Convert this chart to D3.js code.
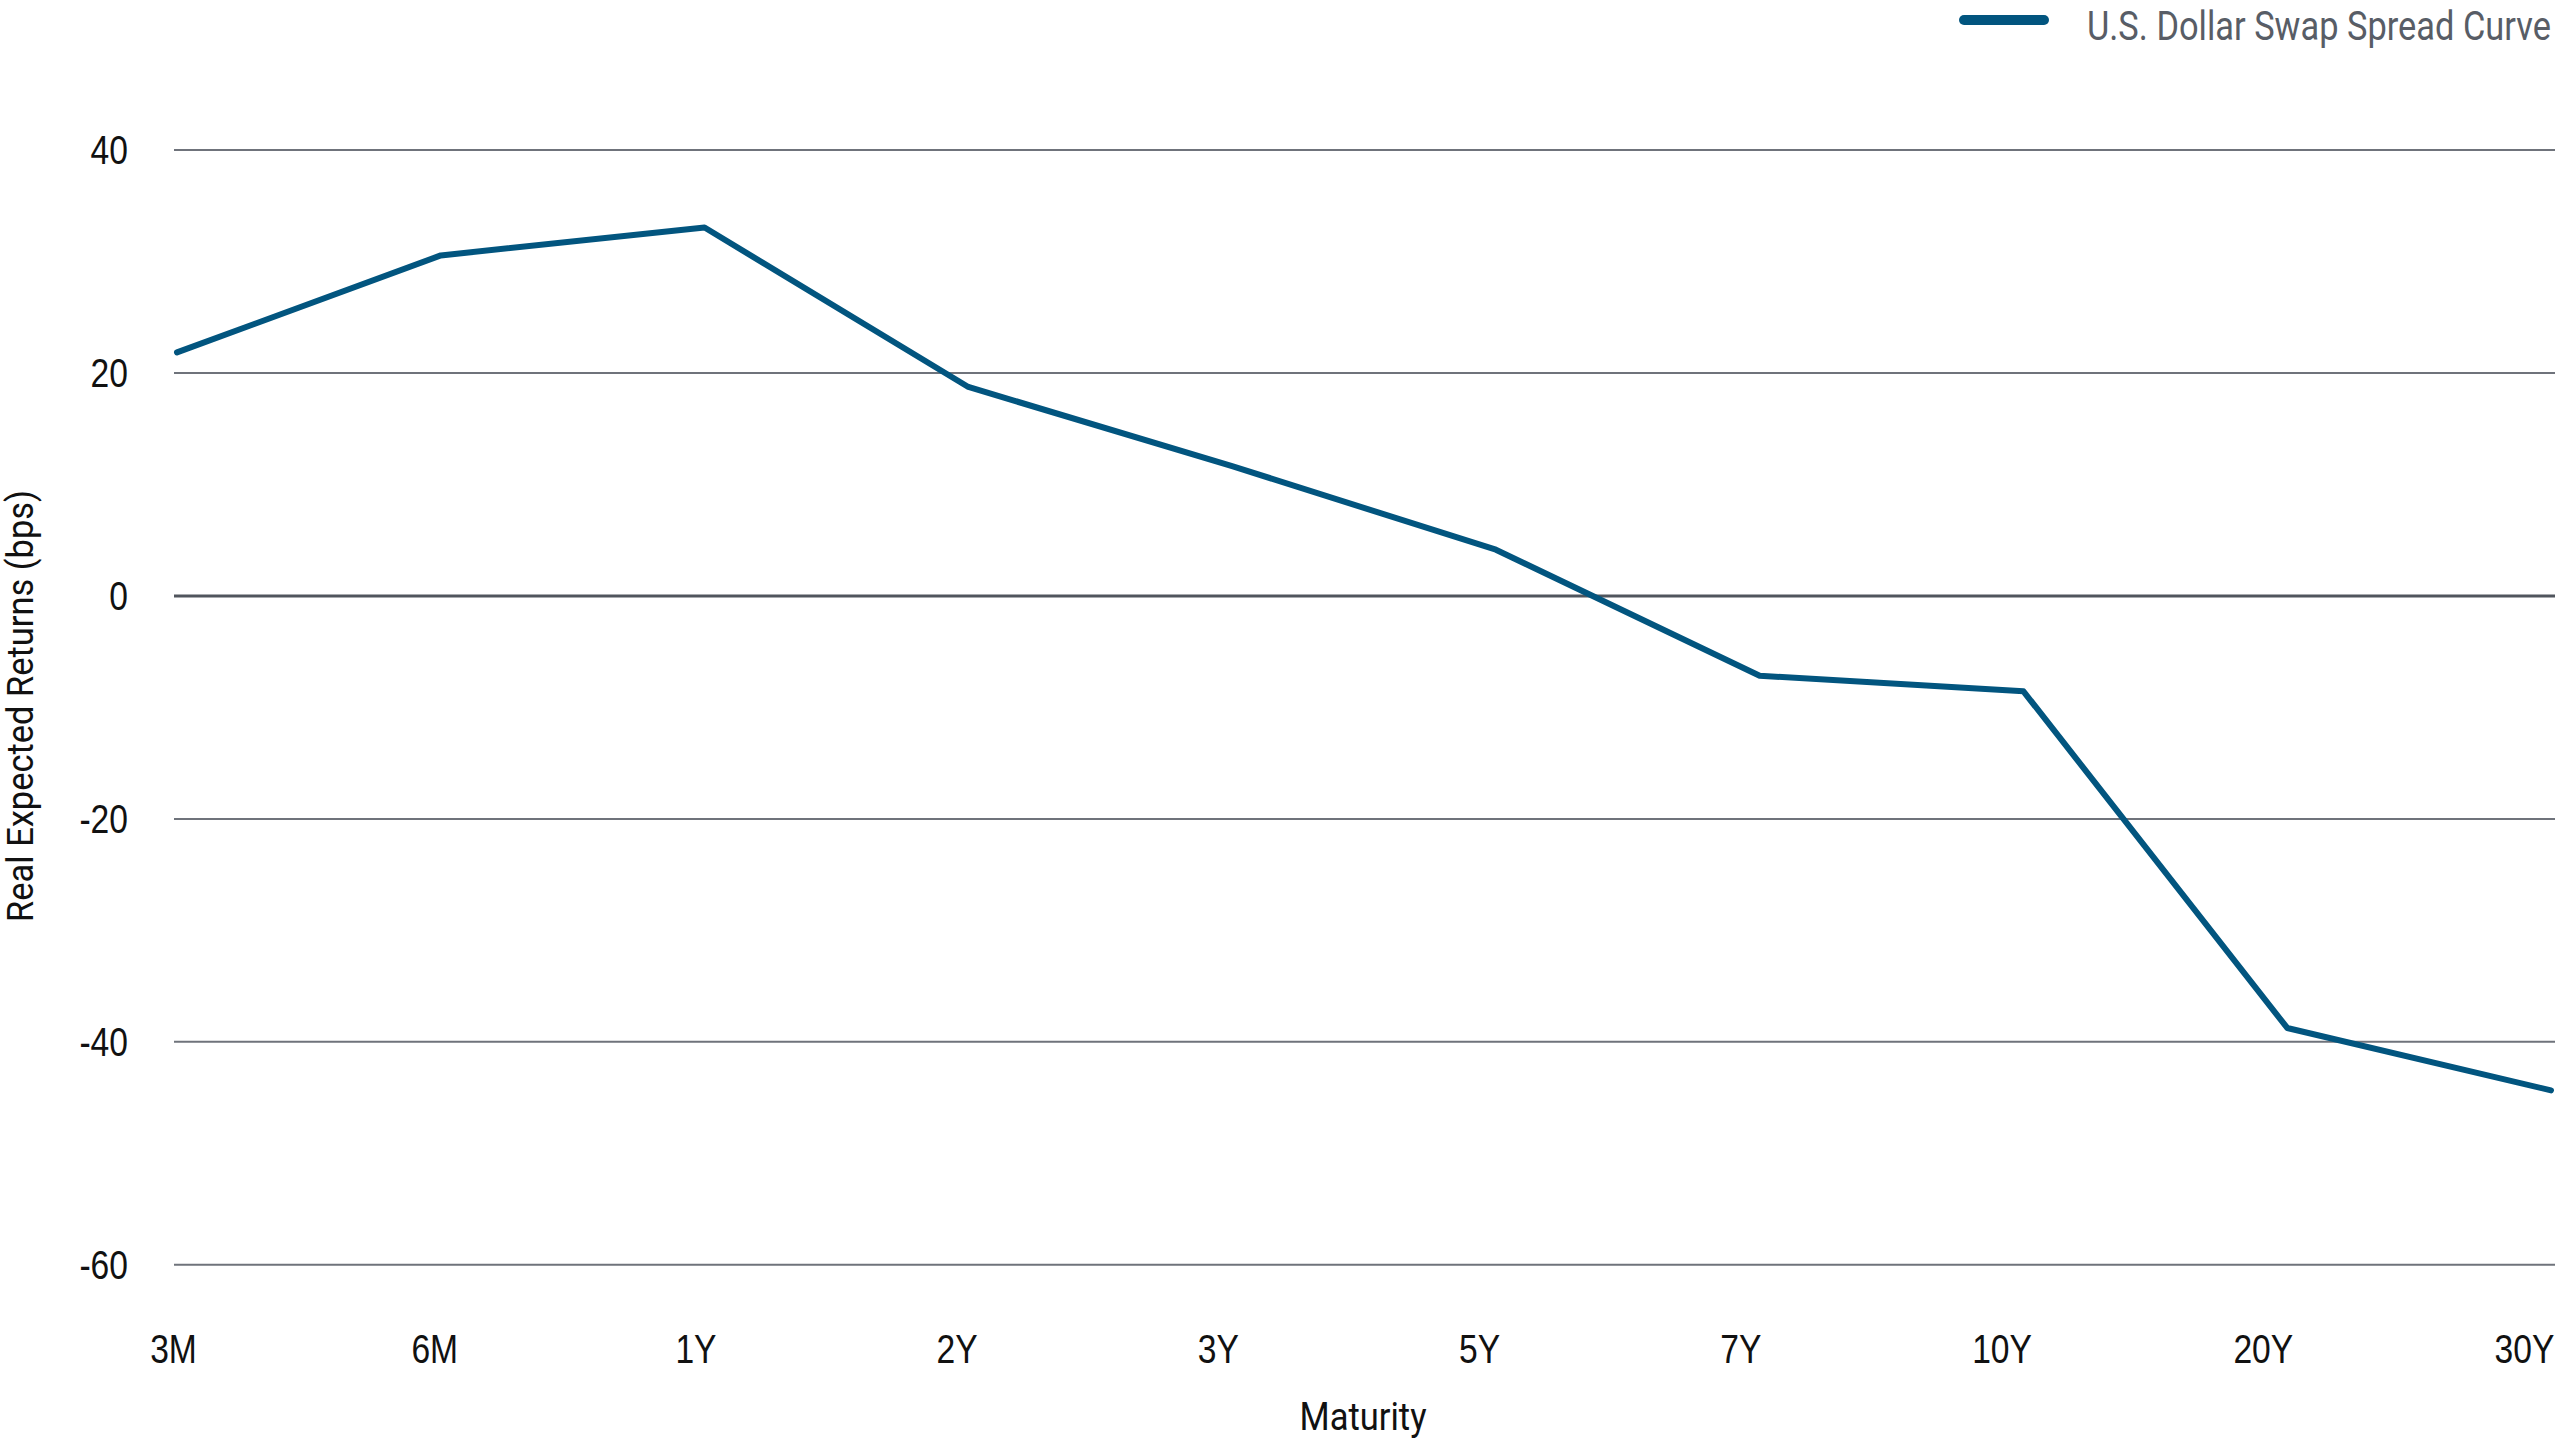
<!DOCTYPE html>
<html>
<head>
<meta charset="utf-8">
<script src="https://cdn.jsdelivr.net/npm/d3@7"></script>
<style>
  html, body { margin: 0; padding: 0; background: #fff; }
  svg { display: block; font-family: Roboto, "Noto Sans", sans-serif; }
</style>
</head>
<body>
<svg id="chart" width="2560" height="1440"></svg>
<script>
const categories = ["3M", "6M", "1Y", "2Y", "3Y", "5Y", "7Y", "10Y", "20Y", "30Y"];
const swapSpread = [21.8, 30.5, 33.0, 18.7, 11.6, 4.1, -7.2, -8.6, -38.8, -44.4];
const yTicks = [-60, -40, -20, 0, 20, 40];
const yTickLabels = ["-60", "-40", "-20", "0", "20", "40"];
const seriesName = "U.S. Dollar Swap Spread Curve";
const yTitle = "Real Expected Returns (bps)";
const xTitle = "Maturity";

const svg = d3.select("#chart");
const plotLeft = 174, plotRight = 2555, plotTop = 149.5, plotBottom = 1264.3;
const cond = 0.82;
const lineColor = "#02557f";

const y = d3.scaleLinear().domain([-60, 40]).range([plotBottom, plotTop]);
const x = d3.scalePoint().domain(categories).range([177, 2551]);
const xLab = d3.scalePoint().domain(categories).range([173, 2524]);

// Y axis + gridlines
const yAxis = svg.append("g")
  .attr("transform", `translate(${plotLeft},0)`)
  .call(d3.axisLeft(y).tickValues(yTicks).tickSize(-(plotRight - plotLeft)).tickPadding(0)
    .tickFormat((d, i) => yTickLabels[i]));
yAxis.select(".domain").remove();
yAxis.selectAll(".tick line")
  .attr("stroke", d => d === 0 ? "#50555d" : "#6f737b")
  .attr("stroke-width", d => d === 0 ? 3 : 2);
yAxis.selectAll(".tick text")
  .attr("font-size", 41)
  .attr("fill", "#111")
  .attr("text-anchor", "end")
  .attr("x", -46 / cond)
  .attr("dy", "0.35em")
  .attr("transform", `scale(${cond},1)`);

// X axis labels
const xAxis = svg.append("g")
  .attr("transform", `translate(0,${plotBottom})`)
  .call(d3.axisBottom(xLab).tickSize(0).tickPadding(0));
xAxis.select(".domain").remove();
xAxis.selectAll(".tick line").remove();
xAxis.selectAll(".tick text")
  .attr("font-size", 41)
  .attr("fill", "#111")
  .attr("y", 98.5)
  .attr("dy", null)
  .attr("transform", `scale(${cond},1)`);

// Line
const line = d3.line()
  .x((d, i) => x(categories[i]))
  .y(d => y(d));
svg.append("path")
  .datum(swapSpread)
  .attr("d", line)
  .attr("fill", "none")
  .attr("stroke", lineColor)
  .attr("stroke-width", 6)
  .attr("stroke-linejoin", "round")
  .attr("stroke-linecap", "round");

// Axis titles
svg.append("text")
  .attr("transform", "translate(33,706) rotate(-90)")
  .attr("text-anchor", "middle")
  .attr("font-size", 37)
  .attr("fill", "#111")
  .attr("textLength", 432)
  .attr("lengthAdjust", "spacingAndGlyphs")
  .text(yTitle);

svg.append("text")
  .attr("x", 1363)
  .attr("y", 1430)
  .attr("text-anchor", "middle")
  .attr("font-size", 39)
  .attr("fill", "#111")
  .attr("textLength", 127)
  .attr("lengthAdjust", "spacingAndGlyphs")
  .text(xTitle);

// Legend
const legend = svg.append("g");
legend.append("line")
  .attr("x1", 1964).attr("x2", 2044)
  .attr("y1", 20).attr("y2", 20)
  .attr("stroke", lineColor)
  .attr("stroke-width", 10)
  .attr("stroke-linecap", "round");
legend.append("text")
  .attr("transform", "translate(2087,40) scale(0.86,1)")
  .attr("font-size", 40)
  .attr("fill", "#585d66")
  .text(seriesName);
</script>
</body>
</html>
